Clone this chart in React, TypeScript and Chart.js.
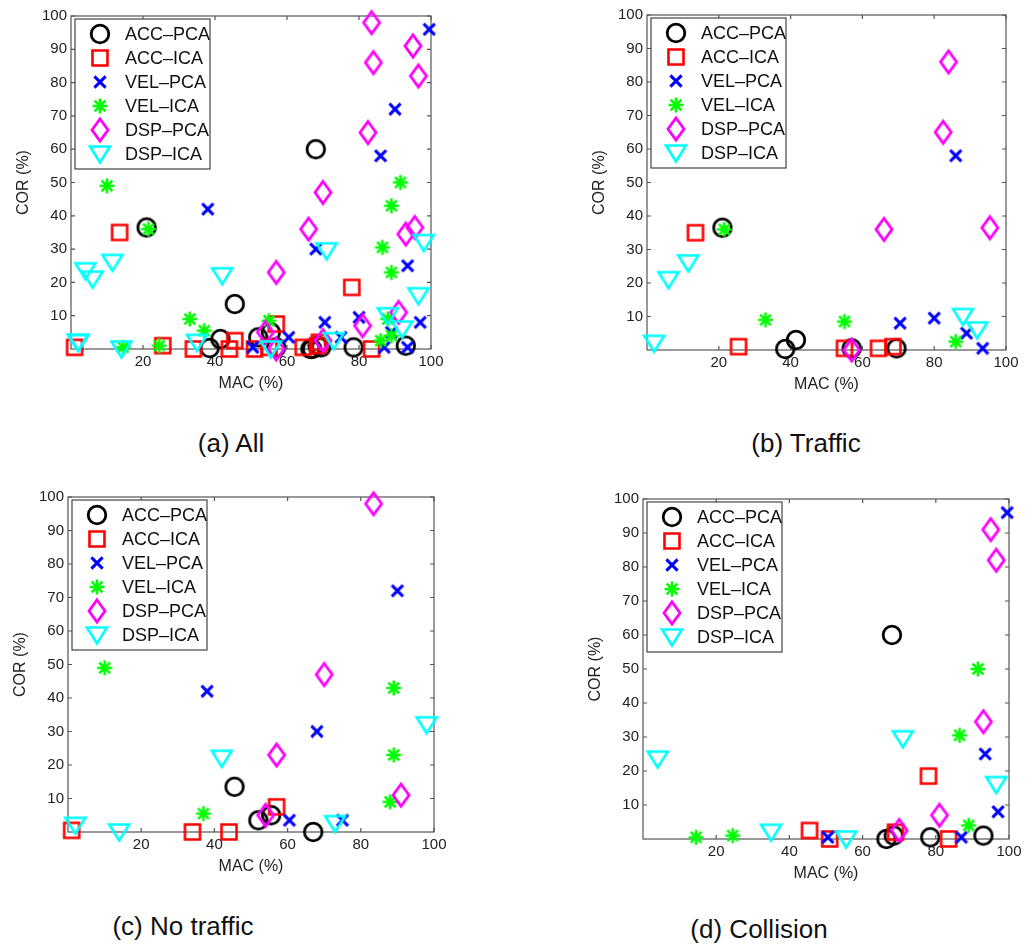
import React, { useEffect, useRef } from 'react';
import { Chart, registerables } from 'chart.js';

Chart.register(...registerables);

type P = [number, number];

const SERIES = ['ACC–PCA', 'ACC–ICA', 'VEL–PCA', 'VEL–ICA', 'DSP–PCA', 'DSP–ICA'];
const COLORS = ['#000000', '#ff0000', '#0000ff', '#00ff00', '#ff00ff', '#00ffff'];
const MARKERS = ['circle', 'square', 'x', 'asterisk', 'diamond', 'triangleDown'];

const X_TICKS = [20, 40, 60, 80, 100];
const Y_TICKS = [10, 20, 30, 40, 50, 60, 70, 80, 90, 100];

// (b) Traffic  [MAC %, COR %]
const trafficAccPca: P[] = [[21, 36.5], [38.5, 0.3], [41.5, 3], [57, 0.5], [69.5, 0.5]];
const trafficAccIca: P[] = [[13.5, 35], [25.5, 1], [55, 0.5], [64.5, 0.5], [68.5, 1]];
const trafficVelPca: P[] = [[86, 58], [70.5, 8], [80, 9.5], [89, 5], [93.5, 0.5]];
const trafficVelIca: P[] = [[21.5, 36], [33, 9], [55, 8.5], [86, 2.5]];
const trafficDspPca: P[] = [[84, 86], [82.5, 65], [66, 36], [95.5, 36.5], [57, 0]];
const trafficDspIca: P[] = [[6, 21], [11.5, 26], [2, 2], [88, 10], [92, 6]];

// (c) No traffic
const noTrafficAccPca: P[] = [[45.5, 13.5], [55.5, 5], [52, 3.5], [67, 0]];
const noTrafficAccIca: P[] = [[57, 7.5], [1, 0.5], [34, 0], [44, 0]];
const noTrafficVelPca: P[] = [[90, 72], [38, 42], [68, 30], [60.5, 3.5], [75, 3.5]];
const noTrafficVelIca: P[] = [[10, 49], [89, 43], [89, 23], [88, 9], [37, 5.5]];
const noTrafficDspPca: P[] = [[83.5, 98], [70, 47], [57, 23], [91, 11], [54, 5]];
const noTrafficDspIca: P[] = [[98, 32], [42, 22], [73, 2.5], [2, 2], [14, 0]];

// (d) Collision
const collisionAccPca: P[] = [[68, 60], [93, 1], [66.5, 0], [68.5, 1], [78.5, 0.5]];
const collisionAccIca: P[] = [[78, 18.5], [69, 2], [83.5, 0], [45.5, 2.5], [51, 0]];
const collisionVelPca: P[] = [[99.5, 96], [93.5, 25], [97, 8], [87, 0.5], [50.5, 0.5]];
const collisionVelIca: P[] = [[91.5, 50], [86.5, 30.5], [89, 4], [14.5, 0.5], [24.5, 1]];
const collisionDspPca: P[] = [[95, 91], [96.5, 82], [93, 34.5], [81, 7], [70, 2.5]];
const collisionDspIca: P[] = [[71, 29.5], [4, 23.5], [96.5, 16], [35, 2], [55.5, 0]];

const TRAFFIC = [trafficAccPca, trafficAccIca, trafficVelPca, trafficVelIca, trafficDspPca, trafficDspIca];
const NO_TRAFFIC = [noTrafficAccPca, noTrafficAccIca, noTrafficVelPca, noTrafficVelIca, noTrafficDspPca, noTrafficDspIca];
const COLLISION = [collisionAccPca, collisionAccIca, collisionVelPca, collisionVelIca, collisionDspPca, collisionDspIca];
// (a) All = union of the three groups
const ALL = SERIES.map((_, i) => [...TRAFFIC[i], ...NO_TRAFFIC[i], ...COLLISION[i]]);

const FONT = "'Liberation Sans', Arial, Helvetica, sans-serif";

function makeMarker(kind: string, color: string): HTMLCanvasElement {
  const c = document.createElement('canvas');
  c.width = 30;
  c.height = 30;
  const ctx = c.getContext('2d')!;
  const m = 15;
  ctx.strokeStyle = color;
  ctx.lineJoin = 'miter';
  ctx.lineCap = 'butt';
  ctx.beginPath();
  if (kind === 'circle') {
    ctx.lineWidth = 2.8;
    ctx.arc(m, m, 8.8, 0, Math.PI * 2);
  } else if (kind === 'square') {
    ctx.lineWidth = 2.6;
    ctx.rect(m - 7.5, m - 7.5, 15, 15);
  } else if (kind === 'x') {
    ctx.lineWidth = 3;
    const r = 5.6;
    ctx.moveTo(m - r, m - r); ctx.lineTo(m + r, m + r);
    ctx.moveTo(m + r, m - r); ctx.lineTo(m - r, m + r);
  } else if (kind === 'asterisk') {
    ctx.lineWidth = 2.6;
    const r = 7.5;
    const d = r * 0.72;
    ctx.moveTo(m - r, m); ctx.lineTo(m + r, m);
    ctx.moveTo(m, m - r); ctx.lineTo(m, m + r);
    ctx.moveTo(m - d, m - d); ctx.lineTo(m + d, m + d);
    ctx.moveTo(m + d, m - d); ctx.lineTo(m - d, m + d);
  } else if (kind === 'diamond') {
    ctx.lineWidth = 2.8;
    ctx.moveTo(m, m - 11); ctx.lineTo(m + 8, m); ctx.lineTo(m, m + 11); ctx.lineTo(m - 8, m);
    ctx.closePath();
  } else if (kind === 'triangleDown') {
    ctx.lineWidth = 2.6;
    ctx.moveTo(m - 10, m - 7.5); ctx.lineTo(m + 10, m - 7.5); ctx.lineTo(m, m + 8.5);
    ctx.closePath();
  }
  ctx.stroke();
  return c;
}

interface PanelSpec {
  groups: P[][];
  left: number; // chart area left (page px)
  top: number;
  width: number;
  height: number;
}

const Y_AXIS_W = 71;
const PAD_TOP = 12;
const PAD_RIGHT = 24;
const X_AXIS_H = 51;

function Panel({ spec }: { spec: PanelSpec }) {
  const ref = useRef<HTMLCanvasElement>(null);
  const cw = Y_AXIS_W + spec.width + PAD_RIGHT;
  const ch = PAD_TOP + spec.height + X_AXIS_H;
  useEffect(() => {
    const markers = SERIES.map((_, i) => makeMarker(MARKERS[i], COLORS[i]));
    const framePlugin = {
      id: 'frame',
      beforeDatasetsDraw(chart: any) {
        const { ctx, chartArea } = chart;
        const { left, right, top, bottom } = chartArea;
        const xs = chart.scales.x;
        const ys = chart.scales.y;
        ctx.save();
        ctx.strokeStyle = '#555555';
        ctx.lineWidth = 1.2;
        ctx.strokeRect(left, top, right - left, bottom - top);
        ctx.beginPath();
        const tl = 4;
        X_TICKS.forEach((v) => {
          const px = xs.getPixelForValue(v);
          ctx.moveTo(px, bottom); ctx.lineTo(px, bottom - tl);
          ctx.moveTo(px, top); ctx.lineTo(px, top + tl);
        });
        Y_TICKS.forEach((v) => {
          const py = ys.getPixelForValue(v);
          ctx.moveTo(left, py); ctx.lineTo(left + tl, py);
          ctx.moveTo(right, py); ctx.lineTo(right - tl, py);
        });
        ctx.stroke();
        ctx.restore();
      },
    };
    const legendPlugin = {
      id: 'boxLegend',
      afterDatasetsDraw(chart: any) {
        const { ctx, chartArea } = chart;
        const bx = chartArea.left + 4;
        const by = chartArea.top + 3;
        const bw = 135;
        const bh = 150;
        ctx.save();
        ctx.fillStyle = '#ffffff';
        ctx.fillRect(bx, by, bw, bh);
        ctx.strokeStyle = '#444444';
        ctx.lineWidth = 1.2;
        ctx.strokeRect(bx, by, bw, bh);
        ctx.font = `18px ${FONT}`;
        ctx.fillStyle = '#111111';
        ctx.textBaseline = 'middle';
        ctx.textAlign = 'left';
        SERIES.forEach((name, i) => {
          const cy = by + 15 + i * 24;
          const img = markers[i];
          ctx.drawImage(img, bx + 25 - img.width / 2, cy - img.height / 2);
          ctx.fillText(name, bx + 50, cy + 1);
        });
        ctx.restore();
      },
    };
    const chart = new Chart(ref.current!, {
      type: 'scatter',
      data: {
        datasets: SERIES.map((name, i) => ({
          label: name,
          data: spec.groups[i].map(([x, y]) => ({ x, y })),
          pointStyle: markers[i] as any,
          pointRadius: 10,
          pointHoverRadius: 10,
          showLine: false,
          clip: false as any,
          order: SERIES.length - i,
          borderColor: COLORS[i],
          backgroundColor: COLORS[i],
        })),
      },
      options: {
        responsive: false,
        animation: false,
        events: [],
        layout: { padding: { left: 0, top: PAD_TOP, right: PAD_RIGHT, bottom: 0 } },
        plugins: {
          legend: { display: false },
          tooltip: { enabled: false },
        },
        scales: {
          x: {
            type: 'linear',
            min: 0,
            max: 100,
            afterBuildTicks: (s: any) => { s.ticks = X_TICKS.map((v) => ({ value: v })); },
            afterFit: (s: any) => { s.height = X_AXIS_H; },
            ticks: { font: { family: FONT, size: 15 }, color: '#222222', padding: 4, maxRotation: 0, autoSkip: false },
            grid: { display: false, drawTicks: false },
            border: { display: false },
            title: { display: true, text: 'MAC (%)', font: { family: FONT, size: 16 }, color: '#222222', padding: { top: 0, bottom: 7 } },
          },
          y: {
            type: 'linear',
            min: 0,
            max: 100,
            afterBuildTicks: (s: any) => { s.ticks = Y_TICKS.map((v) => ({ value: v })); },
            afterFit: (s: any) => { s.width = Y_AXIS_W; },
            ticks: { font: { family: FONT, size: 15 }, color: '#222222', padding: 4, autoSkip: false },
            grid: { display: false, drawTicks: false },
            border: { display: false },
            title: { display: true, text: 'COR (%)', font: { family: FONT, size: 16 }, color: '#222222', padding: { top: 14, bottom: 0 } },
          },
        },
      },
      plugins: [framePlugin, legendPlugin],
    } as any);
    return () => chart.destroy();
  }, [spec]);
  return (
    <canvas
      ref={ref}
      width={cw}
      height={ch}
      style={{ position: 'absolute', left: spec.left - Y_AXIS_W, top: spec.top - PAD_TOP, width: cw, height: ch }}
    />
  );
}

const PANELS: PanelSpec[] = [
  { groups: ALL, left: 71, top: 15, width: 360, height: 334 },
  { groups: TRAFFIC, left: 647, top: 14, width: 359, height: 336 },
  { groups: NO_TRAFFIC, left: 68, top: 496, width: 366, height: 336 },
  { groups: COLLISION, left: 643, top: 498, width: 366, height: 341 },
];

const CAPTIONS = [
  { text: '(a) All', cx: 231, top: 428 },
  { text: '(b) Traffic', cx: 806, top: 428 },
  { text: '(c) No traffic', cx: 183, top: 911 },
  { text: '(d) Collision', cx: 759, top: 914 },
];

export default function App() {
  return (
    <div style={{ position: 'absolute', left: 0, top: 0, width: 1035, height: 949, overflow: 'hidden', background: '#ffffff' }}>
      {PANELS.map((p, i) => (
        <Panel key={i} spec={p} />
      ))}
      {CAPTIONS.map((c, i) => (
        <div
          key={'c' + i}
          style={{
            position: 'absolute',
            left: c.cx - 150,
            top: c.top,
            width: 300,
            textAlign: 'center',
            fontFamily: FONT,
            fontSize: 26,
            lineHeight: '30px',
            color: '#111111',
          }}
        >
          {c.text}
        </div>
      ))}
    </div>
  );
}
